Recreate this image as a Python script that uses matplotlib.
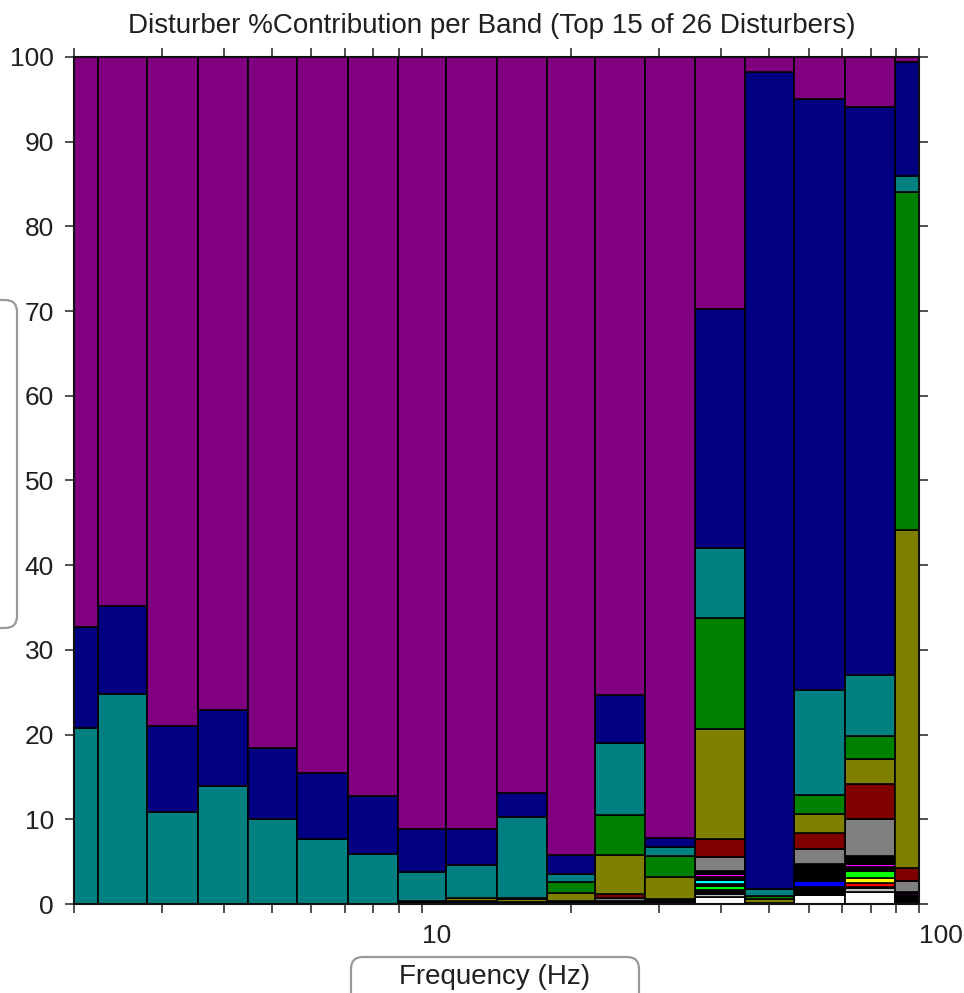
import numpy as np
import matplotlib
matplotlib.use('Agg')
import matplotlib.pyplot as plt
from matplotlib.patches import FancyBboxPatch
from matplotlib.transforms import IdentityTransform
from matplotlib.ticker import FixedLocator, FixedFormatter, NullFormatter

plt.rcParams['font.family'] = ['Liberation Sans', 'DejaVu Sans']

# 1/3-octave band centres (Hz)
bands = [2, 2.5, 3.15, 4, 5, 6.3, 8, 10, 12.5, 16, 20, 25, 31.5, 40, 50, 63, 80, 100]

# % contribution of each disturber per band, stacked bottom -> top
white   = [0, 0, 0, 0, 0, 0, 0, 0, 0, 0, 0, 0, 0, 0.8, 0, 1.06, 1.45, 0.2]
silver  = [0, 0, 0, 0, 0, 0, 0, 0, 0, 0, 0, 0, 0, 0.4, 0, 0, 0.45, 0.15]
black1  = [0, 0, 0, 0, 0, 0, 0, 0.4, 0.35, 0.2, 0.4, 0.35, 0.55, 0.5, 0.1, 0.94, 0.1, 0.6]
red     = [0, 0, 0, 0, 0, 0, 0, 0, 0, 0, 0, 0, 0, 0, 0, 0, 0.5, 0]
yellow  = [0, 0, 0, 0, 0, 0, 0, 0, 0, 0, 0, 0, 0, 0, 0, 0, 0.6, 0]
lime    = [0, 0, 0, 0, 0, 0, 0, 0, 0, 0, 0, 0, 0, 0.4, 0, 0, 0.8, 0]
black2  = [0, 0, 0, 0, 0, 0, 0, 0, 0, 0, 0, 0, 0, 0.3, 0, 0, 0.5, 0.1]
cyan    = [0, 0, 0, 0, 0, 0, 0, 0, 0, 0, 0, 0, 0, 0.4, 0, 0, 0, 0]
black3  = [0, 0, 0, 0, 0, 0, 0, 0, 0, 0, 0, 0, 0, 0.4, 0, 0, 0, 0]
magenta = [0, 0, 0, 0, 0, 0, 0, 0, 0, 0, 0, 0, 0, 0.3, 0, 0, 0.35, 0.25]
blue    = [0, 0, 0, 0, 0, 0, 0, 0, 0, 0, 0, 0, 0, 0, 0, 0.7, 0, 0]
black4  = [0, 0, 0, 0, 0, 0, 0, 0, 0, 0, 0, 0, 0, 0.4, 0, 2.0, 0.9, 0.15]
gray    = [0, 0, 0, 0, 0, 0, 0, 0, 0, 0, 0, 0.4, 0, 1.7, 0, 1.8, 4.35, 1.3]
maroon  = [0, 0, 0, 0, 0, 0, 0, 0, 0, 0, 0, 0.45, 0, 2.1, 0, 1.9, 4.2, 1.45]
olive   = [0, 0, 0, 0, 0, 0, 0, 0, 0.3, 0.35, 0.9, 4.55, 2.65, 13.0, 0.45, 2.2, 2.9, 40.0]
green   = [0, 0, 0, 0, 0, 0, 0, 0, 0, 0.2, 1.3, 4.75, 2.5, 13.1, 0.4, 2.3, 2.7, 39.9]
teal    = [20.8, 24.8, 10.9, 13.9, 10.0, 7.7, 5.9, 3.4, 3.95, 9.55, 1.0, 8.5, 1.0, 8.2, 0.8, 12.4, 7.2, 1.9]
navy    = [11.9, 10.4, 10.1, 9.0, 8.4, 7.8, 6.9, 5.1, 4.3, 2.8, 2.2, 5.7, 1.1, 28.2, 96.45, 69.7, 67.1, 13.4]
purple  = [67.3, 64.8, 79.0, 77.1, 81.6, 84.5, 87.2, 91.1, 91.1, 86.9, 94.2, 75.3, 92.2, 29.8, 1.8, 5.0, 5.9, 0.6]

series = [
    (white, '#FFFFFF'), (silver, '#C0C0C0'), (black1, '#000000'),
    (red, '#FF0000'), (yellow, '#FFFF00'), (lime, '#00FF00'),
    (black2, '#000000'), (cyan, '#00FFFF'), (black3, '#000000'),
    (magenta, '#FF00FF'), (blue, '#0000FF'), (black4, '#000000'),
    (gray, '#808080'), (maroon, '#800000'), (olive, '#808000'),
    (green, '#008000'), (teal, '#008080'), (navy, '#000080'),
    (purple, '#800080'),
]

# band edges: geometric midpoints between neighbouring centres
fc = np.array(bands, dtype=float)
mids = np.sqrt(fc[:-1] * fc[1:])
edges = np.concatenate([[fc[0] ** 2 / mids[0]], mids, [fc[-1] ** 2 / mids[-1]]])
lefts = edges[:-1]
widths = np.diff(edges)

W, H = 964, 993
fig = plt.figure(figsize=(W / 100, H / 100), dpi=100)
ax = fig.add_axes([74 / W, 89 / H, 845 / W, 847 / H])

bottom = np.zeros(len(bands))
for vals, col in series:
    vals = np.array(vals, dtype=float)
    ax.bar(lefts, vals, width=widths, bottom=bottom, align='edge',
           color=col, edgecolor='black', linewidth=1.2)
    bottom += vals

ax.set_xscale('log')
ax.set_xlim(2, 100)
ax.set_ylim(0, 100)

ax.xaxis.set_major_locator(FixedLocator([10, 100]))
ax.xaxis.set_major_formatter(FixedFormatter(['10', '100']))
ax.xaxis.set_minor_locator(FixedLocator([2, 3, 4, 5, 6, 7, 8, 9, 20, 30, 40, 50, 60, 70, 80, 90]))
ax.xaxis.set_minor_formatter(NullFormatter())
ax.set_yticks(np.arange(0, 101, 10))

ax.tick_params(which='both', direction='out', length=6.5, width=1.1,
               top=True, right=True, color='#202020',
               labelsize=19, labelcolor='#202020')
ax.tick_params(axis='y', pad=8)
ax.tick_params(axis='x', pad=8)
for lab in ax.get_xticklabels():
    lab.set_horizontalalignment('left')

for sp in ax.spines.values():
    sp.set_linewidth(1.5)
    sp.set_color('#101010')

fig.text(492 / W, 1 - 33 / H,
         'Disturber %Contribution per Band (Top 15 of 26 Disturbers)',
         ha='center', va='baseline', fontsize=20, color='#202020')

# rounded label boxes (pixel coordinates)
box_kw = dict(boxstyle='round,pad=0,rounding_size=12', fc='none',
              ec='#999999', lw=1.6, transform=IdentityTransform())
fig.patches.append(FancyBboxPatch((351, -40), 288, 76, **box_kw))
fig.patches.append(FancyBboxPatch((-271, 365), 288, 328, **box_kw))

fig.text(495 / W, 16 / H, 'Frequency (Hz)', ha='center', va='center',
         fontsize=20, color='#202020')

fig.savefig('out.png', dpi=100)
